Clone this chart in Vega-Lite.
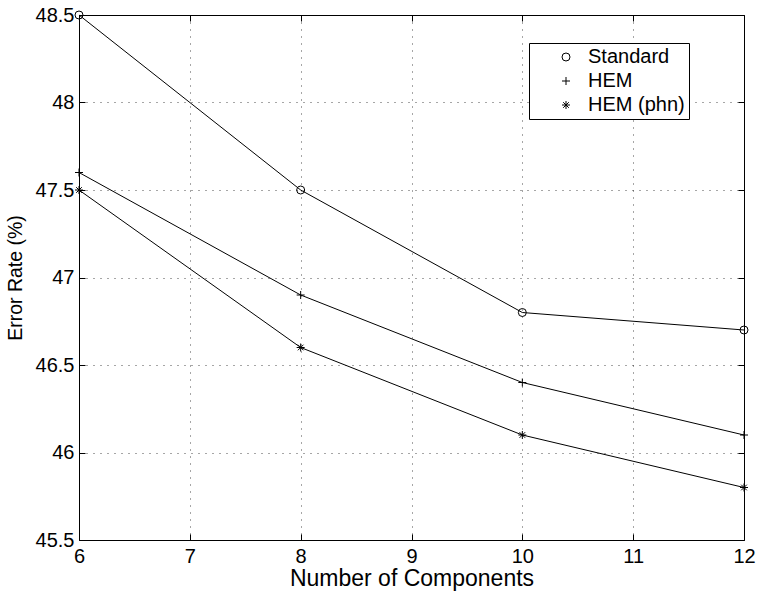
{
  "$schema": "https://vega.github.io/schema/vega-lite/v6.json",
  "width": 665,
  "height": 525,
  "autosize": "none",
  "padding": {"left": 79, "top": 15, "right": 13, "bottom": 52},
  "background": "white",
  "config": {
    "font": "Liberation Sans",
    "view": {"stroke": "black", "strokeWidth": 1},
    "axis": {
      "labelFont": "Liberation Sans",
      "titleFont": "Liberation Sans",
      "labelColor": "black",
      "titleColor": "black",
      "titleFontWeight": "normal",
      "tickColor": "black",
      "domain": false
    }
  },
  "data": {
    "values": [
      {"n": 6, "rate": 48.5, "series": "Standard"},
      {"n": 8, "rate": 47.5, "series": "Standard"},
      {"n": 10, "rate": 46.8, "series": "Standard"},
      {"n": 12, "rate": 46.7, "series": "Standard"},
      {"n": 6, "rate": 47.6, "series": "HEM"},
      {"n": 8, "rate": 46.9, "series": "HEM"},
      {"n": 10, "rate": 46.4, "series": "HEM"},
      {"n": 12, "rate": 46.1, "series": "HEM"},
      {"n": 6, "rate": 47.5, "series": "HEM (phn)"},
      {"n": 8, "rate": 46.6, "series": "HEM (phn)"},
      {"n": 10, "rate": 46.1, "series": "HEM (phn)"},
      {"n": 12, "rate": 45.8, "series": "HEM (phn)"}
    ]
  },
  "layer": [
    {
      "mark": {"type": "line", "color": "black", "strokeWidth": 1},
      "encoding": {
        "x": {
          "field": "n", "type": "quantitative",
          "scale": {"domain": [6, 12], "nice": false, "zero": false},
          "axis": {
            "orient": "bottom", "title": "Number of Components",
            "values": [6, 7, 8, 9, 10, 11, 12], "format": "d",
            "labelFontSize": 20, "titleFontSize": 23,
            "tickSize": -6, "labelPadding": 12, "titlePadding": 1,
            "grid": true, "gridColor": "black", "gridOpacity": 0.7, "gridDash": [1, 6],
            "labelFlush": false
          }
        },
        "y": {
          "field": "rate", "type": "quantitative",
          "scale": {"domain": [45.5, 48.5], "nice": false, "zero": false},
          "axis": {
            "orient": "left", "title": "Error Rate (%)",
            "values": [45.5, 46, 46.5, 47, 47.5, 48, 48.5], "format": "~g",
            "labelFontSize": 20, "titleFontSize": 19.5,
            "tickSize": -6, "labelPadding": 11, "titlePadding": 10,
            "grid": true, "gridColor": "black", "gridOpacity": 0.7, "gridDash": [1, 6],
            "labelFlush": false
          }
        },
        "detail": {"field": "series"}
      }
    },
    {
      "mark": {"type": "point", "color": "black", "filled": false, "size": 64, "strokeWidth": 1, "opacity": 1},
      "encoding": {
        "x": {
          "field": "n", "type": "quantitative",
          "axis": {"orient": "top", "title": null, "labels": false, "grid": false,
                   "values": [6, 7, 8, 9, 10, 11, 12], "tickSize": -6}
        },
        "y": {
          "field": "rate", "type": "quantitative",
          "axis": {"orient": "right", "title": null, "labels": false, "grid": false,
                   "values": [45.5, 46, 46.5, 47, 47.5, 48, 48.5], "tickSize": -6}
        },
        "shape": {
          "field": "series", "type": "nominal",
          "scale": {
            "domain": ["Standard", "HEM", "HEM (phn)"],
            "range": ["circle", "M-1,0L1,0M0,-1L0,1", "M-1,0L1,0M0,-1L0,1M-0.7,-0.7L0.7,0.7M-0.7,0.7L0.7,-0.7"]
          },
          "legend": {
            "title": null, "orient": "none", "legendX": 450, "legendY": 28,
            "labelFontSize": 20, "labelFont": "Liberation Sans", "labelColor": "black",
            "symbolStrokeColor": "black", "symbolFillColor": "transparent", "symbolStrokeWidth": 1,
            "symbolSize": 64, "symbolOffset": 23, "labelOffset": 12,
            "padding": 4, "rowPadding": 4,
            "strokeColor": "black", "fillColor": "white"
          }
        }
      }
    }
  ],
  "resolve": {"axis": {"x": "independent", "y": "independent"}}
}
